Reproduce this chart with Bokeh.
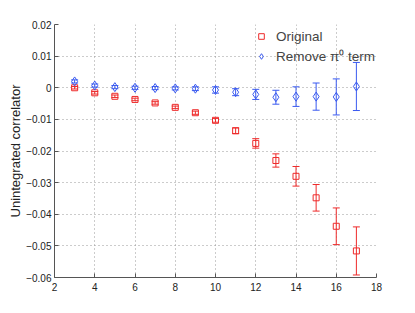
from bokeh.plotting import figure
from bokeh.models import ColumnDataSource, Whisker, TeeHead, Label, Legend, LegendItem, FixedTicker
from bokeh.embed import file_html
from bokeh.resources import INLINE

# Data
t_h = [3, 4, 5, 6, 7, 8, 9, 10, 11, 12, 13, 14, 15, 16, 17]
original = [0.0, -0.0016, -0.0027, -0.0037, -0.0048, -0.0062, -0.0079, -0.0103, -0.0136,
            -0.0176, -0.0230, -0.0280, -0.0348, -0.0438, -0.0516]
original_err = [0.0004, 0.0004, 0.0004, 0.0004, 0.0004, 0.0004, 0.0005, 0.0006, 0.0009,
                0.0015, 0.0021, 0.0031, 0.0042, 0.0058, 0.0076]
removed = [0.0020, 0.0007, 0.0002, 0.0000, -0.0001, -0.0002, -0.0003, -0.0007, -0.0014,
           -0.0021, -0.0030, -0.0028, -0.0028, -0.0029, 0.0004]
removed_err = [0.0005, 0.0005, 0.0005, 0.0005, 0.0005, 0.0005, 0.0006, 0.0010, 0.0011,
               0.0016, 0.0022, 0.0031, 0.0043, 0.0057, 0.0076]
x_ticks = [2, 4, 6, 8, 10, 12, 14, 16, 18]
y_ticks = [-0.06, -0.05, -0.04, -0.03, -0.02, -0.01, 0, 0.01, 0.02]
y_tick_labels = ["\u22120.06", "\u22120.05", "\u22120.04", "\u22120.03", "\u22120.02", "\u22120.01", "0", "0.01", "0.02"]

RED = "#ee2a2a"
BLUE = "#3a5af0"
FONT = "Liberation Sans"

p = figure(frame_width=322, frame_height=253, x_range=(2, 18), y_range=(-0.06, 0.02),
           output_backend="svg", toolbar_location=None,
           min_border_left=54, min_border_right=30, min_border_top=24, min_border_bottom=34)
p.outline_line_color = None

src_o = ColumnDataSource(dict(x=t_h, y=original,
                              lo=[v - e for v, e in zip(original, original_err)],
                              hi=[v + e for v, e in zip(original, original_err)]))
src_r = ColumnDataSource(dict(x=t_h, y=removed,
                              lo=[v - e for v, e in zip(removed, removed_err)],
                              hi=[v + e for v, e in zip(removed, removed_err)]))

for src, col in ((src_o, RED), (src_r, BLUE)):
    w = Whisker(source=src, base="x", lower="lo", upper="hi", dimension="height",
                line_color=col, line_width=1,
                upper_head=TeeHead(size=7, line_color=col, line_width=1),
                lower_head=TeeHead(size=7, line_color=col, line_width=1))
    p.add_layout(w)

r_o = p.scatter("x", "y", source=src_o, marker="square", size=6, fill_alpha=0,
                line_color=RED, line_width=1)
r_r = p.scatter("x", "y", source=src_r, marker="diamond", size=9, fill_alpha=0,
                line_color=BLUE, line_width=1)

legend = Legend(items=[LegendItem(label="Original", renderers=[r_o]),
                       LegendItem(label="Remove \u03c0\u2070 term", renderers=[r_r])],
                location=(196, 208), background_fill_alpha=0, border_line_alpha=0,
                label_text_font=FONT, label_text_font_size="13.5px",
                glyph_width=14, glyph_height=16, label_standoff=8, spacing=3,
                padding=4, margin=0)
p.add_layout(legend)

for ax in (p.xaxis, p.yaxis):
    ax.axis_line_color = "#555555"
    ax.major_tick_line_color = "#555555"
    ax.major_tick_in = 4
    ax.major_tick_out = 0
    ax.minor_tick_line_color = None
    ax.major_label_text_font = FONT
    ax.major_label_text_font_size = "10px"
    ax.major_label_text_color = "#222222"
p.xaxis.ticker = FixedTicker(ticks=x_ticks)
p.yaxis.ticker = FixedTicker(ticks=y_ticks)
p.yaxis.major_label_overrides = {t: l for t, l in zip(y_ticks, y_tick_labels)}
p.xaxis.major_label_standoff = 5
p.yaxis.major_label_standoff = 3

p.yaxis.axis_label = "Unintegrated correlator"
p.yaxis.axis_label_text_font = FONT
p.yaxis.axis_label_text_font_style = "normal"
p.yaxis.axis_label_text_font_size = "13px"
p.yaxis.axis_label_text_color = "#222222"
p.yaxis.axis_label_standoff = 0

for g in (p.xgrid, p.ygrid):
    g.grid_line_color = "#999999"
    g.grid_line_dash = "1 3"
    g.grid_line_width = 1

p.add_layout(Label(x=10, y=-0.06, x_units="data", y_units="data", text="T",
                   x_offset=-8, y_offset=-25, text_font=FONT, text_font_size="15px",
                   text_color="#222222"))
p.add_layout(Label(x=10, y=-0.06, x_units="data", y_units="data", text="H",
                   x_offset=1, y_offset=-30, text_font=FONT, text_font_size="11px",
                   text_color="#222222"))

open("out.html", "w").write(file_html(p, INLINE))
